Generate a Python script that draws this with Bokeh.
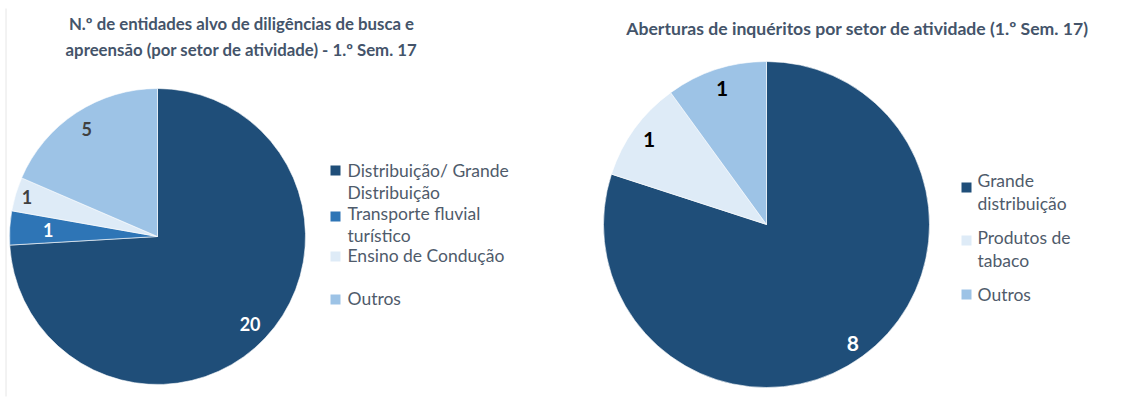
import numpy as np
from bokeh.plotting import figure
from bokeh.models import Range1d
from bokeh.core.properties import value
from bokeh.embed import file_html
from bokeh.resources import INLINE

# ---------------- data ----------------
left_title = ["N.º de entidades alvo de diligências de busca e",
              "apreensão (por setor de atividade) - 1.º Sem. 17"]
left_categories = ["Distribuição/ Grande Distribuição", "Transporte fluvial turístico",
                   "Ensino de Condução", "Outros"]
left_values = [20, 1, 1, 5]
left_legend_lines = [["Distribuição/ Grande", "Distribuição"], ["Transporte fluvial", "turístico"],
                     ["Ensino de Condução"], ["Outros"]]

right_title = ["Aberturas de inquéritos por setor de atividade (1.º Sem. 17)"]
right_categories = ["Grande distribuição", "Produtos de tabaco", "Outros"]
right_values = [8, 1, 1]
right_legend_lines = [["Grande", "distribuição"], ["Produtos de", "tabaco"], ["Outros"]]

# ---------------- style ----------------
left_colors = ["#1F4E79", "#2E75B6", "#DEEBF7", "#9DC3E6"]
left_label_colors = ["#FFFFFF", "#FFFFFF", "#404040", "#404040"]
left_label_fracs = [0.86, 0.74, 0.92, 0.87]
right_colors = ["#1F4E79", "#DEEBF7", "#9DC3E6"]
right_label_colors = ["#FFFFFF", "#000000", "#000000"]
right_label_fracs = [0.90, 0.89, 0.88]

TITLE_COLOR = "#44546A"
LEGEND_COLOR = "#4F5B6B"
FONT = value("Lato")

W, H = 1126, 416


def Y(y):
    return H - y


p = figure(width=W, height=H, x_range=Range1d(0, W), y_range=Range1d(0, H),
           output_backend="svg", toolbar_location=None, min_border=0,
           x_axis_location=None, y_axis_location=None)
p.grid.visible = False
p.outline_line_color = None
p.background_fill_color = "white"
p.border_fill_color = "white"

# faint chart-area border on the far left
p.segment(x0=[5.5], y0=[Y(8)], x1=[5.5], y1=[Y(396)], line_color="#E6E6E6", line_width=1)


def draw_pie(cx, cy, r, values, colors, label_colors, label_fracs, font_size):
    vals = np.array(values, dtype=float)
    cum = np.concatenate([[0.0], np.cumsum(vals / vals.sum())])
    start = np.pi / 2 - 2 * np.pi * cum[:-1]
    end = np.pi / 2 - 2 * np.pi * cum[1:]
    p.wedge(x=[cx] * len(vals), y=[Y(cy)] * len(vals), radius=r,
            start_angle=list(start), end_angle=list(end), direction="clock",
            fill_color=colors, line_color="white", line_width=0.6)
    mid = (start + end) / 2
    fr = np.array(label_fracs)
    lx = cx + r * fr * np.cos(mid)
    ly = Y(cy) + r * fr * np.sin(mid)
    p.text(x=list(lx), y=list(ly), text=[str(v) for v in values],
           text_color=label_colors, text_font=FONT, text_font_style="bold",
           text_font_size=font_size, text_align="center", text_baseline="middle")


def draw_legend(sq_x, txt_x, item_ys, line_gap, sq_offsets, lines, colors):
    xs, ys, ts = [], [], []
    for iy, ls in zip(item_ys, lines):
        for k, t in enumerate(ls):
            xs.append(txt_x)
            ys.append(Y(iy + k * line_gap))
            ts.append(t)
    p.text(x=xs, y=ys, text=ts, text_color=LEGEND_COLOR, text_font=FONT,
           text_font_size="17.5px", text_align="left", text_baseline="middle")
    p.scatter(x=[sq_x] * len(item_ys), y=[Y(iy + o) for iy, o in zip(item_ys, sq_offsets)],
              marker="square", size=10, fill_color=colors, line_color=None)


def draw_title(x, y0, lines, size):
    p.text(x=[x] * len(lines), y=[Y(y0 + 26 * i) for i in range(len(lines))], text=lines,
           text_color=TITLE_COLOR, text_font=FONT, text_font_style="bold",
           text_font_size=size, text_align="center", text_baseline="middle")


# left chart
draw_title(241, 23, left_title, "16.8px")
draw_pie(157, 236, 148, left_values, left_colors, left_label_colors, left_label_fracs, "18px")
draw_legend(335, 347, [170, 213, 255, 298], 22, [0, 3, 1, 1], left_legend_lines, left_colors)

# right chart
draw_title(857, 28, right_title, "17.6px")
draw_pie(766, 224, 163, right_values, right_colors, right_label_colors, right_label_fracs, "21px")
draw_legend(966, 977, [180, 237, 294], 23, [7, 3, 0], right_legend_lines, right_colors)

open("out.html", "w").write(file_html(p, INLINE))
